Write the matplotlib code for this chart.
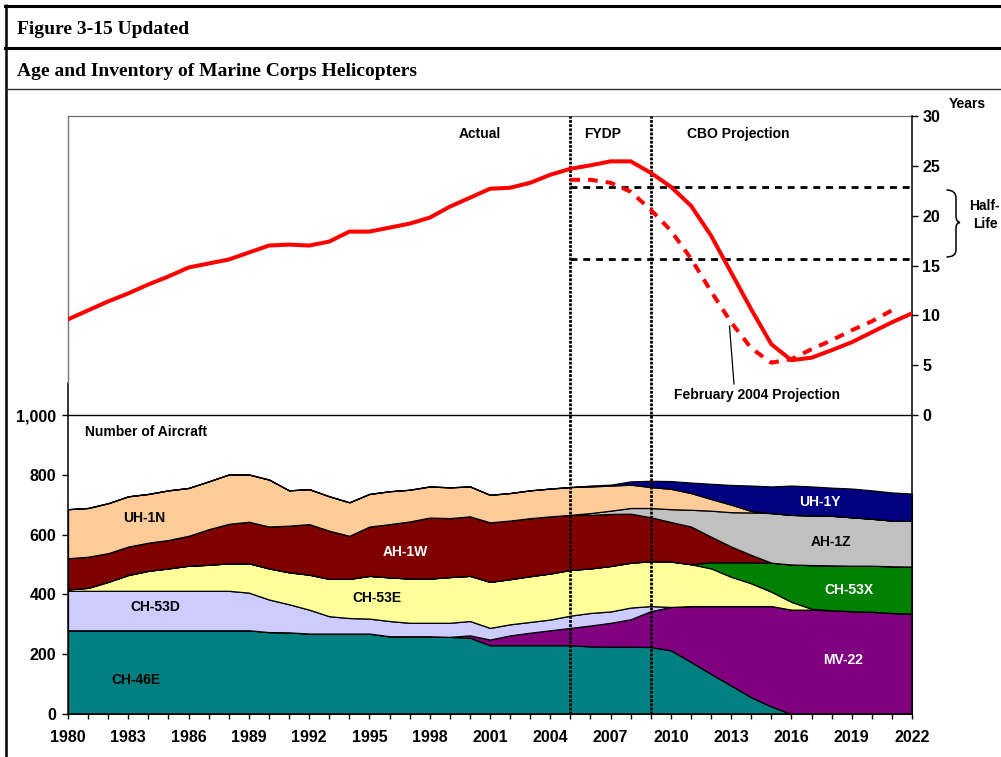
import matplotlib
matplotlib.use("Agg")
import matplotlib.pyplot as plt
from matplotlib.path import Path
from matplotlib.patches import PathPatch
from matplotlib.ticker import FuncFormatter

plt.rcParams['font.family'] = ['Liberation Sans', 'DejaVu Sans']

# ---------------- data ----------------
years = list(range(1980, 2023))

ch46e = [280]*10 + [274, 273, 269, 269, 269, 269, 260, 260, 260, 258, 255, 230, 230, 230, 230, 230,
                    226, 225, 225, 224, 213, 174, 134, 95, 56, 25] + [0]*7
mv22 = [0]*20 + [8, 19, 33, 42, 50, 58, 70, 80, 92, 120, 145, 187, 227, 266, 305, 336,
                 349, 349, 347, 344, 342, 338, 336]
ch53d = [132]*9 + [126, 109, 94, 80, 58, 52, 50, 51, 45, 45, 47, 48, 39, 37, 36, 36, 41, 42, 38,
                   39, 17] + [0]*13
ch53e = [5, 10, 30, 53, 67, 75, 84, 87, 92, 98, 104, 107, 117, 125, 131, 143, 146, 148, 148, 153,
         151, 154, 151, 153, 154, 153, 149, 152, 150, 150, 152, 140, 126, 98, 76, 48, 26, 3] + [0]*5
ch53x = [0]*32 + [20, 48, 70, 97, 125, 146, 150, 152, 154, 156, 157]
ah1w = [104, 104, 96, 95, 94, 95, 100, 119, 132, 139, 140, 156, 169, 161, 144, 165, 178, 191, 204,
        197, 199, 199, 196, 194, 191, 184, 179, 174, 164, 147, 132, 126, 86, 53, 25] + [0]*8
ah1z = [0]*26 + [6, 11, 19, 31, 43, 56, 87, 115, 142, 166, 166, 166, 166, 162, 157, 153, 153]
uh1n = [164, 163, 167, 168, 163, 166, 160, 160, 165, 158, 157, 118, 117, 115, 112, 109, 110, 106,
        104, 103, 100, 92, 92, 93, 93, 93, 89, 84, 78, 70, 68, 56, 39, 25, 5] + [0]*8
uh1y = [0]*26 + [3, 3, 11, 21, 26, 35, 51, 66, 85, 89, 98, 97, 94, 96, 95, 94, 91]

series_names = ['CH-46E', 'MV-22', 'CH-53D', 'CH-53E', 'CH-53X', 'AH-1W', 'AH-1Z', 'UH-1N', 'UH-1Y']
series_colors = ['#008080', '#800080', '#CCCCFF', '#FFFF99', '#008000', '#800000', '#C0C0C0',
                 '#FFCC99', '#000080']

age_cbo = [9.6, 10.5, 11.4, 12.2, 13.1, 13.9, 14.8, 15.2, 15.6, 16.3, 17.0, 17.1, 17.0, 17.4, 18.4,
           18.4, 18.8, 19.2, 19.8, 20.9, 21.8, 22.7, 22.8, 23.3, 24.1, 24.7, 25.05, 25.45, 25.45,
           24.3, 22.9, 21.0, 18.0, 14.3, 10.6, 7.1, 5.5, 5.75, 6.5, 7.3, 8.3, 9.3, 10.2]
feb_years = list(range(2005, 2022))
age_feb2004 = [23.6, 23.6, 23.3, 22.4, 20.6, 18.5, 15.7, 12.4, 9.3, 6.7, 5.25, 5.6, 6.6, 7.5, 8.5,
               9.4, 10.5]
half_life = [22.9, 15.7]
period_breaks = [2005, 2009]

inv_ticks = [0, 200, 400, 600, 800, 1000]
age_ticks = [0, 5, 10, 15, 20, 25, 30]

# ---------------- figure ----------------
W, H = 1001, 757
fig = plt.figure(figsize=(W/100, H/100), dpi=100)

def fx(px):
    return px / W

def fy(py):
    return 1 - py / H

L, R, T, B = 68, 912, 116, 714
ax = fig.add_axes([fx(L), fy(B), fx(R) - fx(L), fy(T) - fy(B)])
ax.set_xlim(1980, 2022)
ax.set_ylim(0, 2000)

ax.stackplot(years, ch46e, mv22, ch53d, ch53e, ch53x, ah1w, ah1z, uh1n, uh1y,
             colors=series_colors, edgecolor='black', linewidth=0.9, zorder=2)

ax.axhline(1000, color='black', lw=1.0, zorder=3)
for xb in period_breaks:
    ax.axvline(xb, color='black', lw=2.0, ls=(0, (1, 0.5)), zorder=4)

tick_font = dict(family='Liberation Sans', weight='bold', size=11.5)

ax.set_yticks(inv_ticks)
ax.yaxis.set_major_formatter(FuncFormatter(lambda v, p: f"{int(v):,}"))
ax.tick_params(axis='y', direction='out', length=4.3, width=1, pad=4)
ax.set_xticks(range(1980, 2023, 3))
ax.set_xticks(years, minor=True)
ax.tick_params(axis='x', which='both', direction='out', length=3.6, width=1, pad=8)
for lab in ax.get_xticklabels() + ax.get_yticklabels():
    lab.set_fontproperties(tick_font)

ax.spines['right'].set_visible(False)
ax.spines['top'].set_color('#666666')
ax.spines['left'].set_bounds(0, 1107)
ax.spines['left'].set_linewidth(1.1)
ax.spines['bottom'].set_linewidth(1.1)
ax.plot([1980, 1980], [1107, 2000], color='#777777', lw=1.0, clip_on=False, zorder=3)

ax2 = ax.twinx()
ax2.set_ylim(-30, 30)
ax2.set_yticks(age_ticks)
ax2.tick_params(axis='y', direction='out', length=4.3, width=1, pad=3)
for lab in ax2.get_yticklabels():
    lab.set_fontproperties(tick_font)
for s in ['left', 'top', 'bottom']:
    ax2.spines[s].set_visible(False)
ax2.spines['right'].set_linewidth(1.1)

ax2.hlines(half_life, period_breaks[0], 2022, colors='black', lw=2.0,
           linestyles=[(0, (2.5, 2.1))], zorder=3)
ax2.plot(years, age_cbo, color='#FF0000', lw=2.9, zorder=5, solid_joinstyle='round')
ax2.plot(feb_years, age_feb2004, color='#FF0000', lw=2.9, dashes=(2.4, 2.0), zorder=5)

# ---------------- overlay for frame and annotations ----------------
ov = fig.add_axes([0, 0, 1, 1])
ov.set_xlim(0, W)
ov.set_ylim(H, 0)
ov.axis('off')
ov.patch.set_alpha(0)
ov.set_zorder(10)

ov.plot([6, 6], [4, H], color='black', lw=1.8, solid_capstyle='butt')
ov.plot([5, W], [5.5, 5.5], color='black', lw=2.2)
ov.plot([5, W], [47.5, 47.5], color='black', lw=2.2)
ov.plot([5, W], [89.3, 89.3], color='#333333', lw=1.0)

serif_bold = dict(family='Liberation Serif', weight='bold', size=14)
ov.text(17, 34, 'Figure 3-15 Updated', ha='left', va='baseline', **serif_bold)
ov.text(17, 76, 'Age and Inventory of Marine Corps Helicopters', ha='left', va='baseline',
        **serif_bold)

lab_font = dict(family='Liberation Sans', weight='bold', size=10)
ov.text(480, 138, 'Actual', ha='center', va='baseline', **lab_font)
ov.text(603, 138, 'FYDP', ha='center', va='baseline', **lab_font)
ov.text(738, 138, 'CBO Projection', ha='center', va='baseline', **lab_font)
ov.text(757, 399, 'February 2004 Projection', ha='center', va='baseline', **lab_font)
ov.plot([729.5, 734], [326, 384], color='black', lw=0.9)
ov.text(967, 107.5, 'Years', ha='center', va='baseline', **lab_font)
ov.text(984, 210, 'Half-', ha='center', va='baseline', **lab_font)
ov.text(985, 227.7, 'Life', ha='center', va='baseline', **lab_font)

brace = Path([(946.5, 190), (956, 190), (956, 198), (956, 216), (956, 222), (960, 222.5),
              (956, 223), (956, 228), (956, 250), (956, 257), (946.5, 257)],
             [Path.MOVETO, Path.CURVE3, Path.CURVE3, Path.LINETO, Path.CURVE3, Path.CURVE3,
              Path.CURVE3, Path.CURVE3, Path.LINETO, Path.CURVE3, Path.CURVE3])
ov.add_patch(PathPatch(brace, fill=False, lw=1.1, edgecolor='black'))

ov.text(85, 436, 'Number of Aircraft', ha='left', va='baseline', **lab_font)

label_specs = [
    ('UH-1N', 144, 522.5, 'black'),
    ('CH-53D', 155, 611, 'black'),
    ('CH-46E', 136, 684, 'black'),
    ('AH-1W', 405, 556.5, 'white'),
    ('CH-53E', 377, 601.5, 'black'),
    ('UH-1Y', 820, 506, 'white'),
    ('AH-1Z', 831, 546.5, 'black'),
    ('CH-53X', 849, 594, 'white'),
    ('MV-22', 843, 664, 'white'),
]
for name, px, py, col in label_specs:
    ov.text(px, py, name, ha='center', va='baseline', color=col, **lab_font)

fig.savefig('out.png', dpi=100)
